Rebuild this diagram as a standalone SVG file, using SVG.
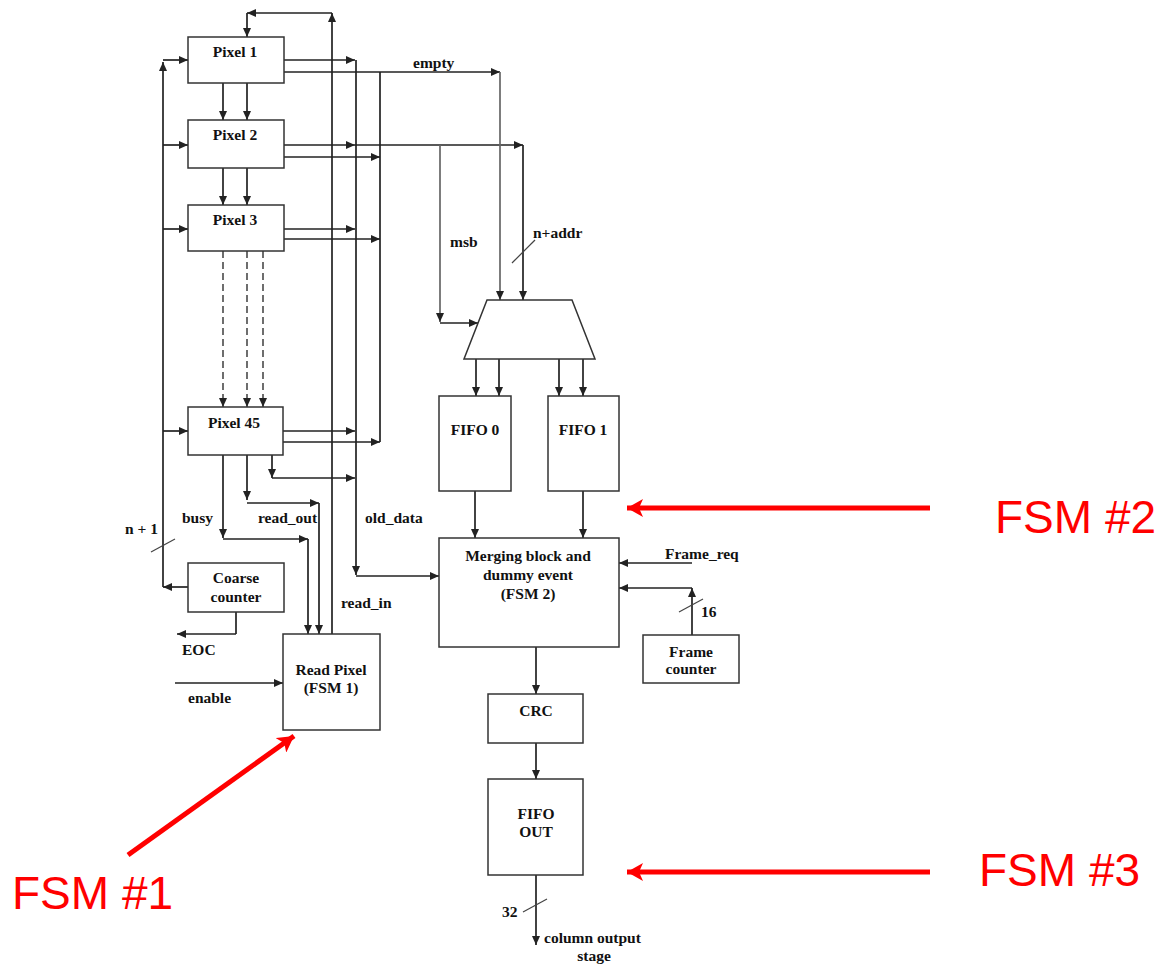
<svg xmlns="http://www.w3.org/2000/svg" width="1167" height="967" viewBox="0 0 1167 967">
<defs>
<marker id="ah" markerUnits="userSpaceOnUse" markerWidth="10" markerHeight="8" refX="9" refY="4" orient="auto">
<path d="M0,0 L9,4 L0,8 Z" fill="#222"/>
</marker>
<marker id="rh" markerUnits="userSpaceOnUse" markerWidth="18" markerHeight="18" refX="16" refY="9" orient="auto">
<path d="M0,0 L16,9 L0,18 L4,9 Z" fill="#f00"/>
</marker>
<style>
.box{fill:#fff;stroke:#333;stroke-width:1.5}
.w{fill:none;stroke:#222;stroke-width:1.7}
.g{fill:none;stroke:#666;stroke-width:1.7}
.d{fill:none;stroke:#555;stroke-width:1.7;stroke-dasharray:7,4}
.a{marker-end:url(#ah)}
.sl{fill:none;stroke:#444;stroke-width:1.2}
.t{font-family:"Liberation Serif",serif;font-weight:bold;font-size:15.5px;fill:#111}
.c{text-anchor:middle}
.r{fill:none;stroke:#f00;stroke-width:5;marker-end:url(#rh)}
.rt{font-family:"Liberation Sans",Arial,sans-serif;font-size:46px;fill:#f00}
</style>
</defs>

<g id="connectors">
<line class="w a" x1="332" y1="634" x2="332" y2="13"/>
<line class="w a" x1="332" y1="13" x2="247" y2="13"/>
<line class="w a" x1="247" y1="13" x2="247" y2="37"/>
<line class="w a" x1="163" y1="587" x2="163" y2="62"/>
<line class="w a" x1="163" y1="60" x2="188" y2="60"/>
<line class="w a" x1="163" y1="145" x2="188" y2="145"/>
<line class="w a" x1="163" y1="229" x2="188" y2="229"/>
<line class="w a" x1="163" y1="431" x2="188" y2="431"/>
<line class="w a" x1="188" y1="587" x2="163" y2="587"/>
<line class="sl" x1="151" y1="552" x2="175" y2="539"/>
<line class="w a" x1="223" y1="83" x2="223" y2="120"/>
<line class="w a" x1="247" y1="83" x2="247" y2="120"/>
<line class="w a" x1="223" y1="168" x2="223" y2="205"/>
<line class="w a" x1="247" y1="168" x2="247" y2="205"/>
<line class="d a" x1="223" y1="251" x2="223" y2="407"/>
<line class="d a" x1="247" y1="251" x2="247" y2="407"/>
<line class="d a" x1="263" y1="251" x2="263" y2="407"/>
<line class="w a" x1="284" y1="60" x2="355" y2="60"/>
<line class="w a" x1="284" y1="72" x2="500" y2="72"/>
<line class="w a" x1="284" y1="145" x2="355" y2="145"/>
<line class="w a" x1="355" y1="145" x2="523" y2="145"/>
<line class="w a" x1="284" y1="157" x2="380" y2="157"/>
<line class="w a" x1="284" y1="229" x2="355" y2="229"/>
<line class="w a" x1="284" y1="239" x2="380" y2="239"/>
<line class="w a" x1="283" y1="431" x2="355" y2="431"/>
<line class="w a" x1="283" y1="442" x2="380" y2="442"/>
<line class="w a" x1="356" y1="60" x2="356" y2="575"/>
<line class="w a" x1="356" y1="576" x2="439" y2="576"/>
<line class="w" x1="380" y1="72" x2="380" y2="442"/>
<line class="g a" x1="500" y1="72" x2="500" y2="300"/>
<line class="w a" x1="523" y1="145" x2="523" y2="300"/>
<line class="g a" x1="440" y1="145" x2="440" y2="322"/>
<line class="w a" x1="440" y1="323" x2="478" y2="323"/>
<line class="sl" x1="512" y1="263" x2="535" y2="240"/>
<line class="w a" x1="223" y1="455" x2="223" y2="538"/>
<line class="w a" x1="223" y1="539" x2="308" y2="539"/>
<line class="w a" x1="308" y1="539" x2="308" y2="634"/>
<line class="w a" x1="247" y1="455" x2="247" y2="500"/>
<line class="w a" x1="247" y1="503" x2="319" y2="503"/>
<line class="w a" x1="319" y1="503" x2="319" y2="634"/>
<line class="w a" x1="272" y1="455" x2="272" y2="478"/>
<line class="w a" x1="272" y1="478" x2="355" y2="478"/>
<line class="w" x1="236" y1="612" x2="236" y2="634"/>
<line class="w a" x1="236" y1="634" x2="177" y2="634"/>
<line class="w a" x1="175" y1="683" x2="283" y2="683"/>
<line class="w a" x1="476" y1="359" x2="476" y2="396"/>
<line class="w a" x1="499" y1="359" x2="499" y2="396"/>
<line class="w a" x1="559" y1="359" x2="559" y2="396"/>
<line class="w a" x1="583" y1="359" x2="583" y2="396"/>
<line class="w a" x1="475" y1="491" x2="475" y2="538"/>
<line class="w a" x1="583" y1="491" x2="583" y2="538"/>
<line class="w a" x1="692" y1="563" x2="619" y2="563"/>
<line class="w a" x1="692" y1="635" x2="692" y2="588"/>
<line class="w a" x1="692" y1="588" x2="619" y2="588"/>
<line class="sl" x1="679" y1="612" x2="703" y2="599"/>
<line class="w a" x1="536" y1="647" x2="536" y2="694"/>
<line class="w a" x1="536" y1="743" x2="536" y2="779"/>
<line class="w a" x1="536" y1="875" x2="536" y2="945"/>
<line class="sl" x1="523" y1="912" x2="547" y2="899"/>
</g>

<g id="pixel1"><rect class="box" x="188" y="37" width="96" height="46"/><text class="t c" x="235" y="57">Pixel 1</text></g>
<g id="pixel2"><rect class="box" x="188" y="120" width="96" height="48"/><text class="t c" x="235" y="140">Pixel 2</text></g>
<g id="pixel3"><rect class="box" x="188" y="205" width="96" height="46"/><text class="t c" x="235" y="225">Pixel 3</text></g>
<g id="pixel45"><rect class="box" x="188" y="407" width="95" height="48"/><text class="t c" x="234" y="428">Pixel 45</text></g>
<g id="coarse"><rect class="box" x="188" y="563" width="96" height="49"/><text class="t c" x="236" y="583">Coarse</text><text class="t c" x="236" y="602">counter</text></g>
<g id="readpixel"><rect class="box" x="283" y="634" width="97" height="96"/><text class="t c" x="331" y="675">Read Pixel</text><text class="t c" x="331" y="693">(FSM 1)</text></g>
<g id="mux"><path class="box" d="M487,300 L572,300 L595,359 L464,359 Z"/></g>
<g id="fifo0"><rect class="box" x="439" y="396" width="72" height="95"/><text class="t c" x="475" y="435">FIFO 0</text></g>
<g id="fifo1"><rect class="box" x="548" y="396" width="71" height="95"/><text class="t c" x="583" y="435">FIFO 1</text></g>
<g id="merging"><rect class="box" x="439" y="538" width="180" height="109"/><text class="t c" x="528" y="561">Merging block and</text><text class="t c" x="528" y="580">dummy event</text><text class="t c" x="528" y="599">(FSM 2)</text></g>
<g id="framecounter"><rect class="box" x="643" y="635" width="96" height="48"/><text class="t c" x="691" y="657">Frame</text><text class="t c" x="691" y="674">counter</text></g>
<g id="crc"><rect class="box" x="488" y="694" width="95" height="49"/><text class="t c" x="536" y="716">CRC</text></g>
<g id="fifoout"><rect class="box" x="488" y="779" width="95" height="96"/><text class="t c" x="536" y="819">FIFO</text><text class="t c" x="536" y="837">OUT</text></g>

<g id="labels">
<text class="t" x="413" y="68">empty</text>
<text class="t" x="450" y="247">msb</text>
<text class="t" x="533" y="238">n+addr</text>
<text class="t" x="182" y="523">busy</text>
<text class="t" x="258" y="523">read_out</text>
<text class="t" x="365" y="523">old_data</text>
<text class="t" x="125" y="534">n + 1</text>
<text class="t" x="341" y="608">read_in</text>
<text class="t" x="182" y="655">EOC</text>
<text class="t" x="188" y="703">enable</text>
<text class="t" x="665" y="559">Frame_req</text>
<text class="t" x="701" y="617">16</text>
<text class="t" x="502" y="917">32</text>
<text class="t" x="544" y="943">column output</text>
<text class="t c" x="594" y="961">stage</text>
</g>

<g id="annotations">
<line class="r" x1="930" y1="508" x2="627" y2="508"/>
<text class="rt" x="995" y="533">FSM #2</text>
<line class="r" x1="930" y1="872" x2="627" y2="872"/>
<text class="rt" x="979" y="886">FSM #3</text>
<line class="r" x1="128" y1="855" x2="294" y2="736"/>
<text class="rt" x="12" y="909">FSM #1</text>
</g>
</svg>
